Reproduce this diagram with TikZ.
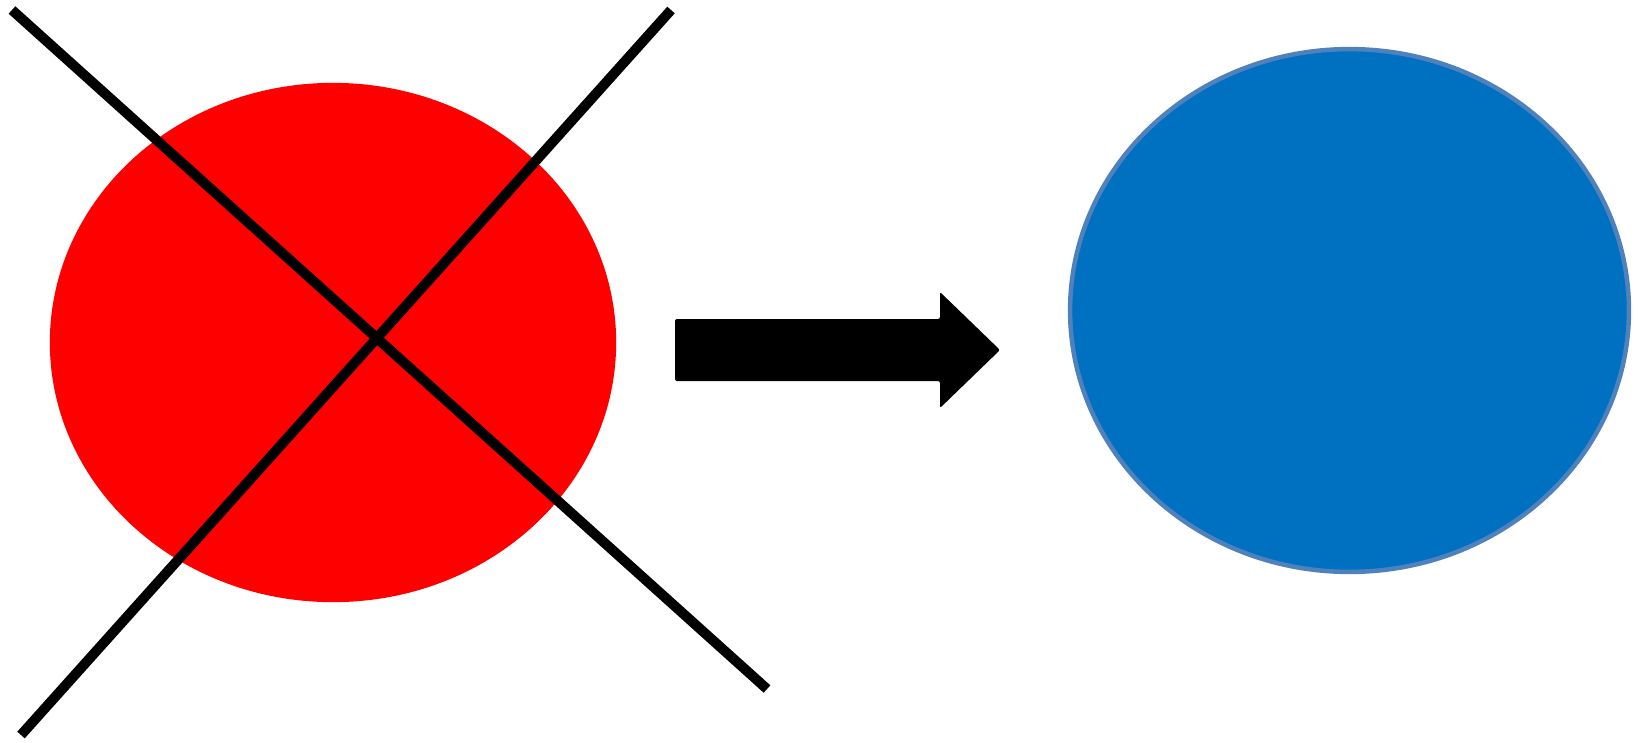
\documentclass[tikz,border=0pt]{standalone}
\definecolor{crossred}{RGB}{255,0,0}
\definecolor{fillblue}{RGB}{0,112,192}
\definecolor{rimblue}{RGB}{79,129,189}
\usetikzlibrary{shapes.geometric}

\begin{document}
\begin{tikzpicture}[x=0.01cm, y=-0.01cm,
  oldshape/.style={ellipse, fill=crossred, inner sep=0pt,
    minimum width=5.66cm, minimum height=5.19cm},
  newshape/.style={ellipse, fill=fillblue, draw=rimblue, line width=0.045cm,
    inner sep=0pt, minimum width=5.585cm, minimum height=5.225cm},
  strike/.style={draw=black, line width=0.1cm},
  blockarrow/.style={fill=black, rounded corners=0.02cm},
]
  \useasboundingbox (0,0) rectangle (1643,742);
  \node[oldshape] (old) at (333,342.5) {};
  \node[newshape] (new) at (1349.5,310.5) {};
  % the red one is crossed out
  \coordinate (a1) at (12,10);
  \coordinate (a2) at (767,689);
  \coordinate (b1) at (671,10);
  \coordinate (b2) at (21,735);
  \draw[strike] (a1) -- (a2);
  \draw[strike] (b1) -- (b2);
  % block arrow in between
  \path[blockarrow] (675,319) -- (940,319) -- (940,292) -- (1000,350)
    -- (940,408) -- (940,381) -- (675,381) -- cycle;
\end{tikzpicture}
\end{document}
